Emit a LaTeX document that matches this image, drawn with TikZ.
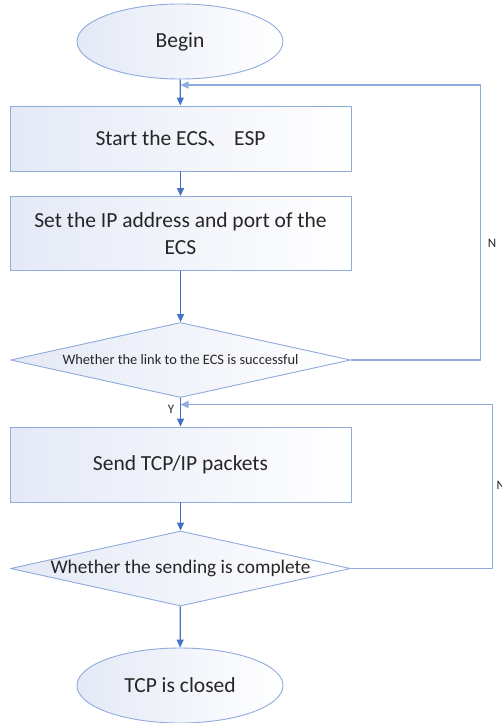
\documentclass[tikz,border=0pt]{standalone}
\usepackage{fontspec}
\setmainfont{Carlito}
\newfontfamily\cjk{Noto Sans CJK SC}
\usetikzlibrary{shapes.geometric,arrows.meta}
\definecolor{edgeblue}{HTML}{4472C4}
\definecolor{lineblue}{HTML}{8FAADC}
\definecolor{boxfill}{HTML}{E4E9F6}
\begin{document}
\begin{tikzpicture}[x=1pt, y=-1pt, line join=round, >={Triangle[length=8pt,width=7pt]},
	base/.style={draw=lineblue, line width=0.9pt, left color=boxfill, right color=white, inner sep=0pt, text=black!85, font=\fontsize{21.5}{27}\selectfont},
	term/.style={base, ellipse, minimum width=206pt, minimum height=75pt},
	proc/.style={base, rectangle, minimum width=341pt, align=center},
	cond/.style={base, diamond, aspect=4.5, minimum width=340pt, minimum height=75pt},
	flow/.style={draw=edgeblue, line width=1.3pt, ->},
	back/.style={draw=lineblue, line width=1.3pt, ->},
	lab/.style={text=black!85, inner sep=0pt, font=\fontsize{13}{15}\selectfont}]
	\useasboundingbox (0,0) rectangle (501,723);
	\node[term] (begin) at (180,41.5) {Begin};
	\node[proc, minimum height=65pt] (start) at (180.5,138.5) {Start the ECS{\cjk 、} ESP};
	\node[proc, minimum height=74pt] (setip) at (180.5,233.5) {Set the IP address and port of the\\ECS};
	\node[cond, font=\fontsize{14.4}{17}\selectfont] (link) at (180.5,360) {Whether the link to the ECS is successful};
	\node[proc, minimum height=75pt] (send) at (180.5,464.5) {Send TCP/IP packets};
	\node[cond, font=\fontsize{19.3}{23}\selectfont] (check) at (180.5,568.5) {Whether the sending is complete};
	\node[term] (closed) at (180,685.5) {TCP is closed};
	\coordinate (retry) at (180.5,85);
	\coordinate (resend) at (180.5,404.5);
	\draw[flow] (begin) -- (start);
	\draw[flow] (start) -- (setip);
	\draw[flow] (setip) -- (link);
	\draw[flow] (link) -- (send);
	\draw[flow] (send) -- (check);
	\draw[flow] (check) -- (closed);
	\draw[back] (link.east) -| (480.5,85) -- (retry);
	\draw[back] (check.east) -| (492.5,404.5) -- (resend);
	\node[lab] (yes) at (171,409) {Y};
	\node[lab] (no1) at (492,243) {N};
	\node[lab, anchor=west] (no2) at (496.5,485) {N};
\end{tikzpicture}
\end{document}
